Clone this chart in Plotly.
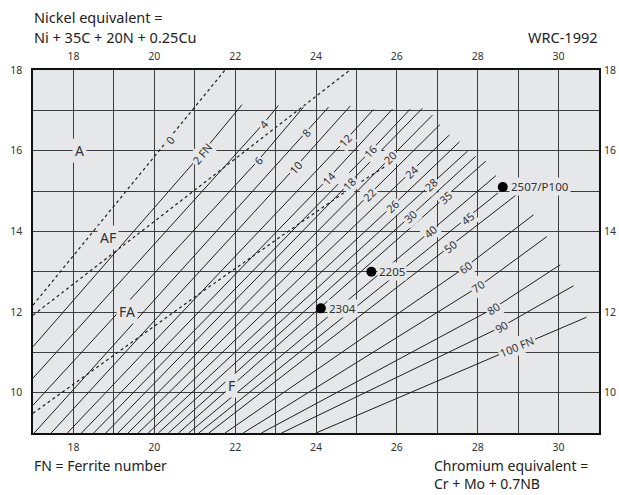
import math
import plotly.graph_objects as go

# ---------------- data ----------------
fn_values = [2, 4, 6, 8, 10, 12, 14, 16, 18, 20, 22, 24, 26, 28, 30, 35, 40, 45, 50, 60, 70, 80, 90, 100]
fn_text = ["2 FN", "4", "6", "8", "10", "12", "14", "16", "18", "20", "22", "24", "26", "28", "30",
           "35", "40", "45", "50", "60", "70", "80", "90", "100 FN"]
line_x_start = [17, 17, 17, 17.03, 17.45, 17.85, 18.2, 18.5, 18.8, 19.1, 19.35, 19.6, 19.85, 20.1,
                20.35, 20.6, 20.85, 21.1, 21.35, 21.75, 22.2, 22.65, 23.15, 24.0]
line_y_start = [11.14, 10.36, 9.69, 9, 9, 9, 9, 9, 9, 9, 9, 9, 9, 9, 9, 9, 9, 9, 9, 9, 9, 9, 9, 9]
line_x_label = [21.18, 22.69, 22.57, 23.76, 23.49, 24.72, 24.31, 25.34, 24.83, 25.84, 25.33, 26.37, 25.88,
                26.85, 26.33, 27.20, 26.83, 27.74, 27.32, 27.69, 28.01, 28.39, 28.60, 28.97]
line_y_label = [15.94, 16.66, 15.76, 16.45, 15.59, 16.25, 15.32, 15.98, 15.18, 15.82, 14.91, 15.48, 14.62,
                15.15, 14.37, 14.85, 14.00, 14.33, 13.62, 13.11, 12.62, 12.09, 11.64, 11.14]
line_x_end = [22.17, 23.07, 23.69, 24.31, 24.85, 25.42, 25.89, 26.33, 26.63, 26.88, 27.07, 27.30, 27.55,
              27.75, 27.95, 28.20, 28.45, 28.50, 28.95, 29.38, 29.71, 30.04, 30.37, 30.69]
line_y_end = [17.14, 17.12, 17.08, 17.08, 17.11, 17.02, 17.03, 17.03, 17.05, 16.88, 16.65, 16.39, 16.22,
              15.99, 15.86, 15.74, 15.38, 14.95, 14.90, 14.41, 13.87, 13.17, 12.65, 11.87]

# phase boundaries (dotted)
b_a_af_x = [17.0, 21.75]
b_a_af_y = [12.17, 18.0]
b_af_fa_x = [17.0, 24.84]
b_af_fa_y = [11.92, 18.0]
b_fa_f_x = [17.0, 19.99, 21.14, 23.37, 24.68, 25.70]
b_fa_f_y = [9.49, 11.64, 12.47, 14.04, 14.95, 15.60]
zero_label = (20.40, 16.27)

phase_text = ["A", "AF", "FA", "F"]
phase_x = [18.15, 18.85, 19.33, 21.90]
phase_y = [16.00, 13.85, 12.01, 10.17]

alloy_names = ["2507/P100", "2205", "2304"]
alloy_cr = [28.62, 25.37, 24.12]
alloy_ni = [15.10, 13.00, 12.09]

x_ticks = [18, 20, 22, 24, 26, 28, 30]
y_ticks = [10, 12, 14, 16, 18]

# ---------------- style ----------------
PLOT_BG = "#e6e7e8"
INK = "#1e1e1e"
GRID = "#3c3c3c"
FONT = "Noto Sans"
PX_X = 566 / 14.0
PX_Y = 363 / 9.0

fig = go.Figure()

for i in range(len(fn_values)):
    fig.add_trace(go.Scatter(
        x=[line_x_start[i], line_x_label[i], line_x_end[i]],
        y=[line_y_start[i], line_y_label[i], line_y_end[i]],
        mode="lines", line=dict(color=INK, width=1),
        hoverinfo="skip", showlegend=False))

for bx, by in [(b_a_af_x, b_a_af_y), (b_af_fa_x, b_af_fa_y), (b_fa_f_x, b_fa_f_y)]:
    fig.add_trace(go.Scatter(x=bx, y=by, mode="lines",
                             line=dict(color=INK, width=1.2, dash="dot"),
                             hoverinfo="skip", showlegend=False))

fig.add_trace(go.Scatter(x=alloy_cr, y=alloy_ni, mode="markers",
                         marker=dict(color="black", size=10),
                         hoverinfo="skip", showlegend=False))

# invisible trace to activate mirrored axes
fig.add_trace(go.Scatter(x=[17, 31], y=[9, 18], xaxis="x2", yaxis="y2", mode="markers",
                         marker=dict(opacity=0), hoverinfo="skip", showlegend=False))

annotations = []
for i in range(len(fn_values)):
    dx = (line_x_end[i] - line_x_label[i]) * PX_X
    dy = (line_y_end[i] - line_y_label[i]) * PX_Y
    ang = -math.degrees(math.atan2(dy, dx))
    annotations.append(dict(x=line_x_label[i], y=line_y_label[i], xref="x", yref="y",
                            text=fn_text[i], showarrow=False, textangle=ang,
                            font=dict(family=FONT, size=11, color="#333"),
                            bgcolor=PLOT_BG, borderpad=1))
dx0 = (b_a_af_x[1] - b_a_af_x[0]) * PX_X
dy0 = (b_a_af_y[1] - b_a_af_y[0]) * PX_Y
annotations.append(dict(x=zero_label[0], y=zero_label[1], xref="x", yref="y", text="0",
                        showarrow=False, textangle=-math.degrees(math.atan2(dy0, dx0)),
                        font=dict(family=FONT, size=11, color="#333"),
                        bgcolor=PLOT_BG, borderpad=1))
for t, x, y in zip(phase_text, phase_x, phase_y):
    annotations.append(dict(x=x, y=y, xref="x", yref="y", text=t, showarrow=False,
                            font=dict(family=FONT, size=14, color="#333"),
                            bgcolor=PLOT_BG, borderpad=2))
for t, x, y in zip(alloy_names, alloy_cr, alloy_ni):
    annotations.append(dict(x=x, y=y, xref="x", yref="y", text=t, showarrow=False,
                            xanchor="left", xshift=6,
                            font=dict(family=FONT, size=11.5, color="#333"),
                            bgcolor=PLOT_BG, borderpad=1))

corner = dict(showarrow=False, xref="paper", yref="paper", borderpad=0,
              font=dict(family=FONT, size=14.5, color="#222"))
corner_small = dict(showarrow=False, xref="paper", yref="paper", borderpad=0,
                    font=dict(family=FONT, size=14, color="#222"))
annotations += [
    dict(text="Nickel equivalent =", x=0, y=1.146, xanchor="left", yanchor="middle", **corner),
    dict(text="Ni + 35C + 20N + 0.25Cu", x=0, y=1.091, xanchor="left", yanchor="middle", **corner),
    dict(text="WRC-1992", x=1, y=1.091, xanchor="right", yanchor="middle", **corner),
    dict(text="FN = Ferrite number", x=0, y=-0.090, xanchor="left", yanchor="middle", **corner_small),
    dict(text="Chromium equivalent =<br>Cr + Mo + 0.7NB", x=0.7067, y=-0.1694, align="left",
         xanchor="left", yanchor="bottom", **corner_small),
]

tickfont = dict(family=FONT, size=10.5, color="#333")
xcommon = dict(range=[17, 31], tickmode="array", tickvals=x_ticks, ticktext=[str(v) for v in x_ticks],
               tickfont=tickfont, ticks="outside", tickcolor="rgba(0,0,0,0)",
               zeroline=False, fixedrange=True, automargin=False)
ycommon = dict(range=[9, 18], tickmode="array", tickvals=y_ticks, ticktext=[str(v) for v in y_ticks],
               tickfont=tickfont, ticks="outside", tickcolor="rgba(0,0,0,0)",
               zeroline=False, fixedrange=True, automargin=False)

fig.update_layout(
    width=619, height=495,
    margin=dict(l=33, r=20, t=70, b=62, autoexpand=False),
    paper_bgcolor="white", plot_bgcolor=PLOT_BG,
    font=dict(family=FONT),
    showlegend=False,
    xaxis=dict(**xcommon, ticklen=4, side="bottom", showgrid=True, gridcolor=GRID, gridwidth=1,
               minor=dict(tick0=17, dtick=1, showgrid=True, gridcolor=GRID, gridwidth=1),
               showline=True, linecolor="#111", linewidth=1.5, mirror=True),
    yaxis=dict(**ycommon, ticklen=7, side="left", showgrid=True, gridcolor=GRID, gridwidth=1,
               minor=dict(tick0=9, dtick=1, showgrid=True, gridcolor=GRID, gridwidth=1),
               showline=True, linecolor="#111", linewidth=1.5, mirror=True),
    xaxis2=dict(**xcommon, ticklen=5, side="top", overlaying="x", showgrid=False, anchor="y2"),
    yaxis2=dict(**ycommon, ticklen=2, side="right", overlaying="y", showgrid=False, anchor="x2"),
    annotations=annotations,
)

fig.write_html("out.html", config={"displayModeBar": False},
               post_script="document.body.style.margin='0px';document.body.style.overflow='hidden';")
